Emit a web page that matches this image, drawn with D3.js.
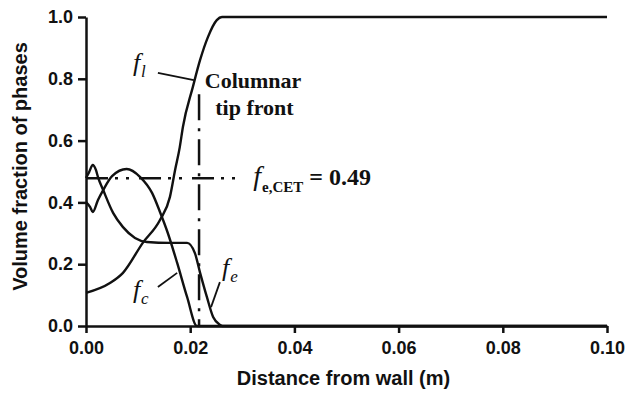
<!DOCTYPE html>
<html>
<head>
<meta charset="utf-8">
<script src="https://cdn.jsdelivr.net/npm/d3@7"></script>
<style>
  body { margin: 0; background: #fff; }
  svg { display: block; }
  .tick text { font-family: "Liberation Sans", Arial, sans-serif; font-weight: bold; font-size: 18px; fill: #111; }
  .serif { font-family: "Liberation Serif", "Times New Roman", serif; fill: #111; }
</style>
</head>
<body>
<div id="chart"></div>
<script>
// liquid fraction f_l
const flX = [0, 0.0046, 0.0071, 0.0109, 0.0142, 0.0161, 0.0171, 0.0180, 0.0186, 0.0205, 0.0219, 0.0234, 0.0251, 0.0261, 0.1];
const flY = [0.107, 0.139, 0.172, 0.269, 0.343, 0.417, 0.505, 0.579, 0.644, 0.773, 0.861, 0.935, 0.990, 1.0, 1.0];

// columnar fraction f_c
const fcX = [0, 0.0008, 0.0013, 0.0023, 0.0033, 0.0050, 0.0078, 0.0104, 0.0127, 0.0142, 0.0157, 0.0175, 0.0194, 0.0213, 0.1];
const fcY = [0.401, 0.385, 0.369, 0.408, 0.440, 0.485, 0.508, 0.482, 0.430, 0.369, 0.301, 0.204, 0.094, 0.0, 0.0];

// equiaxed fraction f_e
const feX = [0, 0.0006, 0.0013, 0.0019, 0.0023, 0.0033, 0.0052, 0.0071, 0.0094, 0.0117, 0.0161, 0.0194, 0.0209, 0.0219, 0.0232, 0.0244, 0.0257, 0.0262, 0.1];
const feY = [0.479, 0.498, 0.521, 0.505, 0.482, 0.440, 0.366, 0.320, 0.285, 0.272, 0.269, 0.269, 0.236, 0.172, 0.094, 0.029, 0.004, 0.0, 0.0];

const xTicks = [0, 0.02, 0.04, 0.06, 0.08, 0.10];
const yTicks = [0, 0.2, 0.4, 0.6, 0.8, 1.0];

const tipFront = 0.0217;   // columnar tip front position
const tipTop = 0.75;
const cetLevel = 0.478;    // where the dash-dot line sits
const cetEnd = 0.0290;
const feCET = 0.49;

const margin = {top: 17, right: 18, bottom: 67, left: 86},
  width = 625 - margin.left - margin.right,
  height = 393 - margin.top - margin.bottom;

const svg = d3.select('#chart').append('svg')
  .attr('width', 625)
  .attr('height', 393)
  .append('g')
  .attr('transform', `translate(${margin.left},${margin.top})`);

const x = d3.scaleLinear().domain([0, 0.1]).range([0, width]);
const y = d3.scaleLinear().domain([0, 1]).range([height, 0]);

const line = d3.line()
  .x(d => x(d[0]))
  .y(d => y(d[1]))
  .curve(d3.curveMonotoneX);

// reference lines
svg.append('line')
  .attr('x1', x(0)).attr('x2', x(cetEnd))
  .attr('y1', y(cetLevel)).attr('y2', y(cetLevel))
  .attr('stroke', '#111').attr('stroke-width', 2.5)
  .attr('stroke-dasharray', '22,7,3,8,3,10');

svg.append('line')
  .attr('x1', x(tipFront)).attr('x2', x(tipFront))
  .attr('y1', y(tipTop)).attr('y2', y(0))
  .attr('stroke', '#111').attr('stroke-width', 2.5)
  .attr('stroke-dasharray', '26,8,3,8');

// curves
[[flX, flY], [fcX, fcY], [feX, feY]].forEach(([xs, ys]) => {
  svg.append('path')
    .datum(xs.map((v, i) => [v, ys[i]]))
    .attr('fill', 'none')
    .attr('stroke', '#111')
    .attr('stroke-width', 2.4)
    .attr('d', line);
});

// axes
const xAxis = svg.append('g')
  .attr('transform', `translate(0,${height})`)
  .call(d3.axisBottom(x).tickValues(xTicks).tickFormat(d3.format('.2f')).tickSizeInner(7).tickSizeOuter(0).tickPadding(8));
const yAxis = svg.append('g')
  .call(d3.axisLeft(y).tickValues(yTicks).tickFormat(d3.format('.1f')).tickSizeInner(8).tickSizeOuter(0).tickPadding(5));
[xAxis, yAxis].forEach(g => {
  g.select('.domain').attr('stroke', '#111').attr('stroke-width', 2.5);
  g.selectAll('.tick line').attr('stroke', '#111').attr('stroke-width', 2.5);
});

// axis titles
svg.append('text')
  .attr('x', width / 2 - 3)
  .attr('y', height + 59)
  .attr('text-anchor', 'middle')
  .style('font-family', '"Liberation Sans", Arial, sans-serif')
  .style('font-weight', 'bold')
  .style('font-size', '20px')
  .attr('fill', '#111')
  .text('Distance from wall (m)');

svg.append('text')
  .attr('transform', `translate(${-margin.left + 27},${height / 2 - 5}) rotate(-90)`)
  .attr('text-anchor', 'middle')
  .style('font-family', '"Liberation Sans", Arial, sans-serif')
  .style('font-weight', 'bold')
  .style('font-size', '20px')
  .attr('fill', '#111')
  .text('Volume fraction of phases');

// annotations
function fLabel(px, py, sub, opts = {}) {
  const t = svg.append('text').attr('class', 'serif')
    .attr('x', x(px)).attr('y', y(py))
    .style('font-size', (opts.size || 26) + 'px')
    .style('font-style', 'italic');
  t.append('tspan').text('f');
  t.append('tspan')
    .attr('dx', opts.dx || 1)
    .attr('dy', opts.dy || 6)
    .style('font-size', (opts.subSize || 17) + 'px')
    .style('font-style', opts.subItalic === false ? 'normal' : 'italic')
    .style('font-weight', opts.subWeight || 'normal')
    .text(sub);
  return t;
}

function leader(x1, y1, x2, y2) {
  svg.append('line')
    .attr('x1', x(x1)).attr('y1', y(y1))
    .attr('x2', x(x2)).attr('y2', y(y2))
    .attr('stroke', '#111').attr('stroke-width', 1.8);
}

fLabel(0.0090, 0.824, 'l');
leader(0.0138, 0.819, 0.0207, 0.796);

fLabel(0.0090, 0.091, 'c');
leader(0.0138, 0.126, 0.0175, 0.172);

fLabel(0.0261, 0.162, 'e');
leader(0.0257, 0.142, 0.0240, 0.061);

const cet = fLabel(0.0321, 0.456, 'e,CET', {size: 28, subSize: 15, subItalic: false, subWeight: 'bold', dy: 7, dx: 1});
cet.append('tspan')
  .attr('dy', -7)
  .style('font-style', 'normal')
  .style('font-weight', 'bold')
  .style('font-size', '24px')
  .text(' = ' + feCET.toFixed(2));

svg.append('text').attr('class', 'serif')
  .attr('x', x(0.0228)).attr('y', y(0.770))
  .style('font-size', '22px').style('font-weight', 'bold')
  .text('Columnar');
svg.append('text').attr('class', 'serif')
  .attr('x', x(0.0248)).attr('y', y(0.683))
  .style('font-size', '22px').style('font-weight', 'bold')
  .text('tip front');
</script>
</body>
</html>
